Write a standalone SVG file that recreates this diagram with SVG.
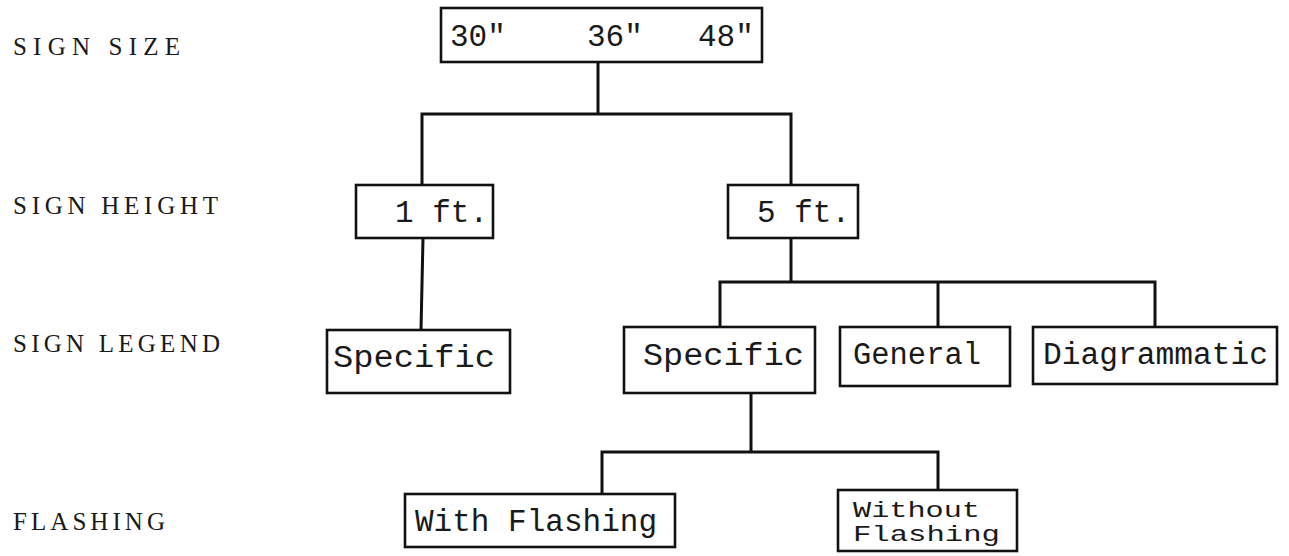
<svg xmlns="http://www.w3.org/2000/svg" width="1289" height="556" viewBox="0 0 1289 556">
  <style>
    .box { fill: #ffffff; stroke: #111111; stroke-width: 2.6; }
    .wire { fill: none; stroke: #111111; stroke-width: 3; stroke-linecap: square; }
    .t { font-family: "Liberation Mono", "DejaVu Sans Mono", monospace; font-size: 31px; fill: #1a1a1a; }
    .small { font-family: "Liberation Mono", "DejaVu Sans Mono", monospace; font-size: 22px; fill: #1a1a1a; }
    .lab { font-family: "Liberation Serif", "DejaVu Serif", serif; font-size: 25px; fill: #1a1a1a; }
  </style>
  <rect width="1289" height="556" fill="#ffffff"/>

  <!-- row labels -->
  <g id="labels">
    <text class="lab" x="13" y="55" textLength="167" lengthAdjust="spacing">SIGN SIZE</text>
    <text class="lab" x="13" y="214" textLength="205" lengthAdjust="spacing">SIGN HEIGHT</text>
    <text class="lab" x="13" y="352" textLength="207" lengthAdjust="spacing">SIGN LEGEND</text>
    <text class="lab" x="13" y="530" textLength="152" lengthAdjust="spacing">FLASHING</text>
  </g>

  <!-- connectors -->
  <g id="connectors">
    <path class="wire" d="M598 62 V114 M422 114 H791 M422 114 V185 M791 114 V185"/>
    <path class="wire" d="M423 238 L421 330"/>
    <path class="wire" d="M791 238 V282 M720 282 H1155 M720 282 V327 M938 282 V327 M1155 282 V327"/>
    <path class="wire" d="M751 392 V452 M602 452 H938 M602 452 V494 M938 452 V490"/>
  </g>

  <g id="size">
    <rect class="box" x="441" y="8" width="321" height="54"/>
    <text class="t" y="46"><tspan x="450">30"</tspan><tspan x="587">36"</tspan><tspan x="698">48"</tspan></text>
  </g>

  <g id="height-1ft">
    <rect class="box" x="356" y="185" width="137" height="53"/>
    <text class="t" x="395" y="222">1 ft.</text>
  </g>

  <g id="height-5ft">
    <rect class="box" x="728" y="185" width="130" height="53"/>
    <text class="t" x="757" y="222">5 ft.</text>
  </g>

  <g id="legend-specific-1ft">
    <rect class="box" x="327" y="330" width="183" height="63"/>
    <text class="t" x="333" y="367" textLength="162" lengthAdjust="spacingAndGlyphs">Specific</text>
  </g>

  <g id="legend-specific-5ft">
    <rect class="box" x="624" y="327" width="191" height="66"/>
    <text class="t" x="643" y="365" textLength="161" lengthAdjust="spacingAndGlyphs">Specific</text>
  </g>

  <g id="legend-general">
    <rect class="box" x="840" y="327" width="170" height="59"/>
    <text class="t" x="853" y="364" textLength="128" lengthAdjust="spacingAndGlyphs">General</text>
  </g>

  <g id="legend-diagrammatic">
    <rect class="box" x="1033" y="327" width="244" height="57"/>
    <text class="t" x="1043" y="364" textLength="225" lengthAdjust="spacingAndGlyphs">Diagrammatic</text>
  </g>

  <g id="flash-with">
    <rect class="box" x="405" y="494" width="270" height="53"/>
    <text class="t" x="415" y="531" textLength="242" lengthAdjust="spacingAndGlyphs">With Flashing</text>
  </g>

  <g id="flash-without">
    <rect class="box" x="838" y="490" width="179" height="61"/>
    <text class="small" x="853" y="517" textLength="127" lengthAdjust="spacingAndGlyphs">Without</text>
    <text class="small" x="853" y="541" textLength="147" lengthAdjust="spacingAndGlyphs">Flashing</text>
  </g>
</svg>
